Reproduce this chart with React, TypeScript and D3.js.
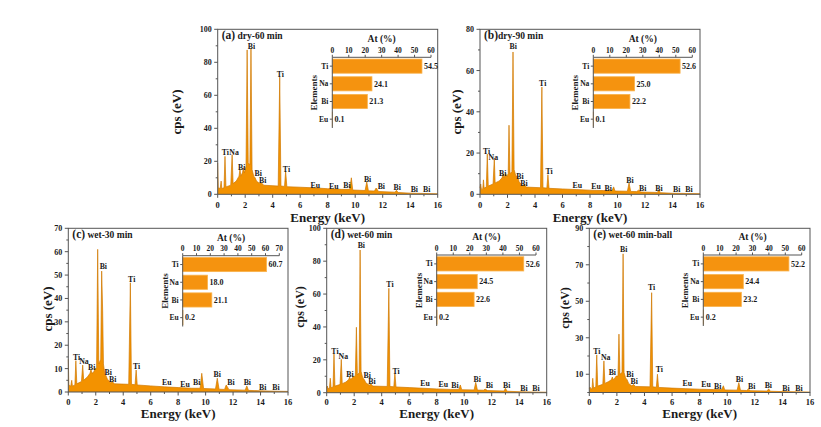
import React from 'react';
import * as d3 from 'd3';

const FONT = '"Liberation Serif", "Times New Roman", serif';
const ENERGY_TICKS = [0, 2, 4, 6, 8, 10, 12, 14, 16];
const ENERGY_MINOR = [1, 3, 5, 7, 9, 11, 13, 15];
const ELEMENTS = ['Ti', 'Na', 'Bi', 'Eu'];

// Atomic composition (At %) per sample, order of ELEMENTS
const COMP_A = [54.5, 24.1, 21.3, 0.1];
const COMP_B = [52.6, 25.0, 22.2, 0.1];
const COMP_C = [60.7, 18.0, 21.1, 0.2];
const COMP_D = [52.6, 24.5, 22.6, 0.2];
const COMP_E = [52.2, 24.4, 23.2, 0.2];

const COMP_TICKS_60 = [0, 10, 20, 30, 40, 50, 60];
const COMP_TICKS_70 = [0, 10, 20, 30, 40, 50, 60, 70];

const Y_TICKS_A = [0, 20, 40, 60, 80, 100];
const Y_MINOR_A = [10, 30, 50, 70, 90];
const Y_TICKS_B = [0, 20, 40, 60, 80];
const Y_MINOR_B = [10, 30, 50, 70];
const Y_TICKS_C = [0, 10, 20, 30, 40, 50, 60, 70];
const Y_MINOR_C = [5, 15, 25, 35, 45, 55, 65];
const Y_TICKS_D = [0, 20, 40, 60, 80, 100];
const Y_MINOR_D = [10, 30, 50, 70, 90];
const Y_TICKS_E = [10, 30, 50, 70, 90];
const Y_MINOR_E = [0, 20, 40, 60, 80];

// EDS spectra: [energy keV, cps]
const SPEC_A: [number, number][] = [
  [0, 19], [0.04, 4], [0.18, 3.5], [0.25, 8], [0.3, 3.5], [0.46, 4], [0.53, 23], [0.6, 4.5],
  [0.95, 5.5], [1.05, 24], [1.12, 6.5], [1.35, 8], [1.55, 11], [1.62, 15], [1.68, 11], [1.8, 13],
  [1.87, 16], [1.94, 13], [2.06, 17], [2.14, 87.5], [2.22, 19], [2.34, 18], [2.42, 88.5], [2.5, 15],
  [2.62, 11], [2.72, 10], [2.82, 8], [3.05, 6.5], [3.17, 7], [3.35, 5.5], [4.4, 5], [4.51, 71],
  [4.6, 5], [4.86, 4.8], [4.94, 14], [5.03, 4.6], [6, 4.3], [7, 3.9], [8, 3.4], [9, 3], [9.6, 3],
  [9.72, 10], [9.82, 2.6], [10.72, 2.3], [10.84, 7.5], [10.96, 2.1], [11.4, 2], [11.52, 3.8],
  [11.7, 1.7], [12.9, 1.3], [13.0, 2.4], [13.12, 1.1], [14, 0.7], [15, 0.5], [16, 0.3],
];
const SPEC_B: [number, number][] = [
  [0, 3], [0.05, 5], [0.1, 2.5], [0.2, 2.5], [0.25, 7], [0.3, 3], [0.46, 3.5], [0.53, 19.5],
  [0.6, 4], [0.95, 5], [1.04, 17.5], [1.1, 5.5], [1.4, 6.5], [1.6, 8], [1.68, 10], [1.75, 8],
  [1.88, 10], [1.95, 8.5], [2.05, 10], [2.11, 33.5], [2.18, 10], [2.32, 11], [2.4, 69], [2.48, 12],
  [2.6, 9], [2.73, 8.5], [2.85, 6], [3.1, 4], [3.2, 5], [3.35, 3.5], [4.4, 3.2], [4.5, 52],
  [4.58, 3.2], [4.86, 3], [4.94, 9.5], [5.02, 2.9], [6, 2.6], [7, 2.3], [8, 2], [9, 1.8], [9.6, 1.8],
  [9.72, 3.6], [9.82, 1.6], [10.72, 1.5], [10.84, 5.5], [10.96, 1.4], [11.4, 1.3], [11.52, 2],
  [11.7, 1.1], [12.9, 0.9], [13.0, 2.2], [13.12, 0.8], [14, 0.5], [15, 0.4], [16, 0.3],
];
const SPEC_C: [number, number][] = [
  [0, 14], [0.04, 3], [0.18, 2.5], [0.25, 5], [0.3, 2.5], [0.48, 3], [0.55, 13.4], [0.62, 3.5],
  [0.96, 4.5], [1.05, 11.5], [1.12, 5], [1.4, 6.5], [1.58, 8], [1.65, 9.5], [1.72, 8], [1.85, 8.5],
  [1.95, 10], [2.06, 10], [2.14, 61], [2.22, 12], [2.36, 14], [2.43, 51.7], [2.5, 35], [2.56, 12],
  [2.65, 8], [2.74, 7], [2.85, 5.5], [3.1, 4], [3.2, 4.5], [3.35, 3.5], [4.4, 3.3], [4.52, 46.7],
  [4.6, 3.3], [4.86, 3.1], [4.94, 9.4], [5.02, 3], [6, 2.6], [7, 2.2], [8, 1.9], [9, 1.6], [9.6, 1.6],
  [9.72, 8], [9.85, 1.5], [10.72, 1.3], [10.85, 5.9], [10.98, 1.2], [11.38, 1.1], [11.5, 3],
  [11.7, 1], [12.88, 0.8], [13.0, 2.6], [13.12, 0.7], [14, 0.5], [15, 0.35], [16, 0.25],
];
const SPEC_D: [number, number][] = [
  [0, 3], [0.05, 4], [0.1, 2.5], [0.2, 2.5], [0.26, 8.8], [0.32, 3], [0.46, 3.5], [0.53, 23.5],
  [0.6, 4], [0.97, 5], [1.06, 20.3], [1.13, 5.5], [1.4, 6.5], [1.6, 8], [1.67, 9.5], [1.74, 8],
  [1.86, 9], [1.95, 10], [2.08, 10], [2.16, 39.8], [2.23, 11], [2.36, 12], [2.43, 86.8], [2.5, 13],
  [2.62, 9], [2.73, 8], [2.85, 6], [3.1, 4.5], [3.2, 5.5], [3.35, 4], [4.4, 3.8], [4.52, 63.5],
  [4.6, 3.8], [4.88, 3.6], [4.96, 11.8], [5.04, 3.5], [6, 3.1], [7, 2.7], [8, 2.3], [9, 2], [9.6, 2],
  [9.72, 4.7], [9.82, 1.8], [10.72, 1.7], [10.84, 6.3], [10.96, 1.6], [11.4, 1.5], [11.52, 2.2],
  [11.7, 1.3], [12.9, 1], [13.0, 2.7], [13.12, 0.9], [14, 0.6], [15, 0.4], [16, 0.3],
];
const SPEC_E: [number, number][] = [
  [0, 2], [0.05, 3], [0.1, 2], [0.2, 2], [0.25, 7.8], [0.31, 2.5], [0.47, 3], [0.54, 20.6],
  [0.61, 3.5], [0.98, 4.5], [1.06, 17.3], [1.13, 5], [1.4, 6], [1.6, 7], [1.67, 8.5], [1.74, 7],
  [1.86, 8], [1.95, 9], [2.08, 9], [2.15, 32], [2.22, 10], [2.37, 11], [2.45, 76], [2.52, 11],
  [2.63, 8], [2.74, 7], [2.85, 5], [3.1, 3.5], [3.2, 4.5], [3.35, 3.3], [4.4, 3.1], [4.52, 54.7],
  [4.6, 3.1], [4.86, 2.9], [4.94, 10], [5.02, 2.8], [6, 2.4], [7, 2.1], [8, 1.8], [9, 1.6], [9.6, 1.6],
  [9.72, 3.7], [9.82, 1.4], [10.72, 1.3], [10.84, 5.4], [10.96, 1.2], [11.4, 1.1], [11.52, 1.8],
  [11.7, 1], [12.9, 0.8], [13.0, 2], [13.12, 0.7], [14, 0.5], [15, 0.35], [16, 0.25],
];

// Peak labels: [element, energy keV, cps]
const PEAKS_A: [string, number, number][] = [
  ['Ti', 0.55, 25.8], ['Na', 1.19, 25.8], ['Bi', 1.75, 16.7], ['Bi', 2.45, 89.5], ['Ti', 4.55, 73],
  ['Bi', 2.95, 13], ['Bi', 3.27, 8.7], ['Ti', 5.0, 15.2], ['Eu', 7.1, 5.6], ['Eu', 8.45, 5],
  ['Bi', 9.4, 5.5], ['Bi', 10.9, 9.3], ['Bi', 11.9, 5], ['Bi', 13.06, 4.6], ['Bi', 14.3, 3], ['Bi', 15.2, 3],
];
const PEAKS_B: [string, number, number][] = [
  ['Ti', 0.48, 20.7], ['Na', 0.97, 18.2], ['Bi', 1.65, 10.2], ['Bi', 2.42, 71.6], ['Ti', 4.56, 53.8],
  ['Bi', 2.91, 9], ['Bi', 3.2, 5.6], ['Ti', 5.02, 11], ['Eu', 7.08, 4.2], ['Eu', 8.44, 4],
  ['Bi', 9.33, 3.2], ['Bi', 10.9, 6.6], ['Bi', 11.83, 2.9], ['Bi', 13.02, 3.2], ['Bi', 14.3, 2.3], ['Bi', 15.2, 2.3],
];
const PEAKS_C: [string, number, number][] = [
  ['Ti', 0.61, 14.8], ['Na', 1.14, 13], ['Bi', 1.7, 10.8], ['Bi', 2.55, 53.6], ['Ti', 4.62, 48.2],
  ['Bi', 2.91, 8.3], ['Bi', 3.23, 5.4], ['Ti', 4.98, 11.1], ['Eu', 7.17, 4], ['Eu', 8.5, 3.4],
  ['Bi', 9.35, 4.1], ['Bi', 10.85, 7.6], ['Bi', 11.85, 4.1], ['Bi', 13.04, 4.1], ['Bi', 14.16, 1.9], ['Bi', 15.13, 1.9],
];
const PEAKS_D: [string, number, number][] = [
  ['Ti', 0.6, 25.5], ['Na', 1.21, 22.5], ['Bi', 1.69, 11.4], ['Bi', 2.52, 89.8], ['Ti', 4.6, 66],
  ['Bi', 2.95, 10.8], ['Bi', 3.29, 6.7], ['Ti', 5.04, 13.2], ['Eu', 7.15, 5.7], ['Eu', 8.48, 5.1],
  ['Bi', 9.33, 4.3], ['Bi', 10.95, 8.1], ['Bi', 11.83, 4.3], ['Bi', 13.09, 4.7], ['Bi', 14.35, 3], ['Bi', 15.22, 3],
];
const PEAKS_E: [string, number, number][] = [
  ['Ti', 0.54, 22.4], ['Na', 1.19, 19.6], ['Bi', 1.67, 10.9], ['Bi', 2.49, 78.7], ['Ti', 4.52, 57.5],
  ['Bi', 2.95, 10.1], ['Bi', 3.26, 6.1], ['Ti', 5.08, 12.7], ['Eu', 7.1, 5], ['Eu', 8.46, 4.7],
  ['Bi', 9.31, 3.7], ['Bi', 10.88, 7.4], ['Bi', 11.78, 3.2], ['Bi', 12.98, 3.8], ['Bi', 14.26, 2.4], ['Bi', 15.2, 2.4],
];

const TAGS = ['(a)', '(b)', '(c)', '(d)', '(e)'];
const NAMES = [' dry-60 min', 'dry-90 min', ' wet-30 min', ' wet-60 min', ' wet-60 min-ball'];

// Layout (pixel geometry)
const LAYOUT = [
  { box: { l: 217.7, r: 437.7, t: 29.3, b: 194.3 }, inset: { l: 332.3, r: 431, t: 57.3, b: 128 }, yTitleX: 178, yTitleY: 112, xTitleY: 221.5, tickOff: 14, cpsSize: 13, yMax: 100, compMax: 60 },
  { box: { l: 480, r: 700, t: 29.3, b: 194.3 }, inset: { l: 593.3, r: 692.3, t: 57.3, b: 128 }, yTitleX: 458, yTitleY: 112, xTitleY: 221.5, tickOff: 14, cpsSize: 13, yMax: 80, compMax: 60 },
  { box: { l: 68.3, r: 288, t: 228.3, b: 392 }, inset: { l: 182.7, r: 279.3, t: 255.7, b: 326.5 }, yTitleX: 49, yTitleY: 309, xTitleY: 418, tickOff: 13, cpsSize: 13, yMax: 70, compMax: 70 },
  { box: { l: 326.7, r: 546.7, t: 228.3, b: 392.7 }, inset: { l: 436.7, r: 536, t: 255, b: 326 }, yTitleX: 301.7, yTitleY: 307, xTitleY: 418, tickOff: 12.5, cpsSize: 12, yMax: 100, compMax: 60 },
  { box: { l: 589.3, r: 810, t: 228.3, b: 392.5 }, inset: { l: 703.3, r: 801.7, t: 255, b: 326 }, yTitleX: 566.7, yTitleY: 308, xTitleY: 418, tickOff: 12.5, cpsSize: 12, yMax: 90, compMax: 60 },
];

const SPECS = [SPEC_A, SPEC_B, SPEC_C, SPEC_D, SPEC_E];
const PEAKS = [PEAKS_A, PEAKS_B, PEAKS_C, PEAKS_D, PEAKS_E];
const COMPS = [COMP_A, COMP_B, COMP_C, COMP_D, COMP_E];
const Y_TICKS = [Y_TICKS_A, Y_TICKS_B, Y_TICKS_C, Y_TICKS_D, Y_TICKS_E];
const Y_MINORS = [Y_MINOR_A, Y_MINOR_B, Y_MINOR_C, Y_MINOR_D, Y_MINOR_E];
const COMP_TICKS = [COMP_TICKS_60, COMP_TICKS_60, COMP_TICKS_70, COMP_TICKS_60, COMP_TICKS_60];

const FILL = '#F39200';
const EDGE = '#D07800';
const BAR = '#F5930F';
const BAR_EDGE = '#F9B24C';
const AXIS = '#555';
const TXT = '#1a1a1a';

function Panel({ i }: { i: number }) {
  const L = LAYOUT[i];
  const spec = SPECS[i];
  const x = d3.scaleLinear().domain([0, 16]).range([L.box.l, L.box.r]);
  const y = d3.scaleLinear().domain([0, L.yMax]).range([L.box.b, L.box.t]);
  const area = d3.area<[number, number]>().x((d) => x(d[0])).y0(y(0)).y1((d) => y(d[1]));
  const line = d3.line<[number, number]>().x((d) => x(d[0])).y((d) => y(d[1]));
  const ix = d3.scaleLinear().domain([0, L.compMax]).range([L.inset.l, L.inset.r]);
  const iy = d3.scaleBand<string>().domain(ELEMENTS).range([L.inset.t, L.inset.b]).paddingInner(0.2).paddingOuter(0.1);
  const comp = COMPS[i];
  const bw = L.box.r - L.box.l;
  return (
    <g fontFamily={FONT} fontWeight="bold" fill={TXT}>
      <path d={area(spec) || ''} fill={FILL} stroke="none" />
      <path d={line(spec) || ''} fill="none" stroke={EDGE} strokeWidth={0.7} />
      <rect x={L.box.l} y={L.box.t} width={bw} height={L.box.b - L.box.t} fill="none" stroke={AXIS} strokeWidth={1} />
      {ENERGY_TICKS.map((t) => (
        <g key={'xt' + t}>
          <line x1={x(t)} x2={x(t)} y1={L.box.b} y2={L.box.b + 3.5} stroke={AXIS} />
          <text x={x(t)} y={L.box.b + L.tickOff} fontSize={8.5} textAnchor="middle">{t}</text>
        </g>
      ))}
      {ENERGY_MINOR.map((t) => (
        <line key={'xm' + t} x1={x(t)} x2={x(t)} y1={L.box.b} y2={L.box.b + 2} stroke={AXIS} />
      ))}
      {Y_TICKS[i].map((t) => (
        <g key={'yt' + t}>
          <line x1={L.box.l - 3.5} x2={L.box.l} y1={y(t)} y2={y(t)} stroke={AXIS} />
          <text x={L.box.l - 6} y={y(t) + 3} fontSize={8} textAnchor="end">{t}</text>
        </g>
      ))}
      {Y_MINORS[i].map((t) => (
        <line key={'ym' + t} x1={L.box.l - 2} x2={L.box.l} y1={y(t)} y2={y(t)} stroke={AXIS} />
      ))}
      <text x={(L.box.l + L.box.r) / 2} y={L.xTitleY} fontSize={13} textAnchor="middle">Energy (keV)</text>
      <text transform={`translate(${L.yTitleX},${L.yTitleY}) rotate(-90)`} fontSize={L.cpsSize} textAnchor="middle" dominantBaseline="middle">cps (eV)</text>
      <text x={L.box.l + 4} y={L.box.t + 10}>
        <tspan fontSize={11.5}>{TAGS[i]}</tspan>
        <tspan fontSize={9.5}>{NAMES[i]}</tspan>
      </text>
      {PEAKS[i].map((p, k) => (
        <text key={'pk' + k} x={x(p[1])} y={y(p[2]) + 2.8} fontSize={7.8} textAnchor="middle">{p[0]}</text>
      ))}
      <g>
        {ELEMENTS.map((el, k) => (
          <g key={'bar' + el}>
            <rect x={ix(0)} y={iy(el)!} width={Math.max(0, ix(comp[k]) - ix(0))} height={iy.bandwidth()} fill={BAR} stroke={BAR_EDGE} strokeWidth={0.8} />
            <text x={ix(comp[k]) + 2} y={iy(el)! + iy.bandwidth() / 2 + 2.8} fontSize={8}>{comp[k].toFixed(1)}</text>
            <line x1={L.inset.l - 2.5} x2={L.inset.l} y1={iy(el)! + iy.bandwidth() / 2} y2={iy(el)! + iy.bandwidth() / 2} stroke={AXIS} />
            <text x={L.inset.l - 4} y={iy(el)! + iy.bandwidth() / 2 + 2.6} fontSize={7.5} textAnchor="end">{el}</text>
          </g>
        ))}
        <line x1={ix(0)} x2={ix(L.compMax)} y1={L.inset.t} y2={L.inset.t} stroke={AXIS} />
        <line x1={L.inset.l} x2={L.inset.l} y1={L.inset.t} y2={L.inset.b} stroke={AXIS} />
        {COMP_TICKS[i].map((t) => (
          <g key={'ct' + t}>
            <line x1={ix(t)} x2={ix(t)} y1={L.inset.t} y2={L.inset.t - 2.5} stroke={AXIS} />
            <text x={ix(t)} y={L.inset.t - 4.5} fontSize={7.5} textAnchor="middle">{t}</text>
          </g>
        ))}
        <text x={(ix(0) + ix(L.compMax)) / 2} y={L.inset.t - 15} fontSize={9.5} textAnchor="middle">At (%)</text>
        <text transform={`translate(${L.inset.l - 17},${(L.inset.t + L.inset.b) / 2}) rotate(-90)`} fontSize={9} textAnchor="middle" dominantBaseline="middle">Elements</text>
      </g>
    </g>
  );
}

export default function App() {
  return (
    <svg width={821} height={427} style={{ position: 'absolute', left: 0, top: 0, background: '#fff' }}>
      <rect x={0} y={0} width={821} height={427} fill="#fff" />
      {LAYOUT.map((_, i) => (
        <Panel key={i} i={i} />
      ))}
    </svg>
  );
}
